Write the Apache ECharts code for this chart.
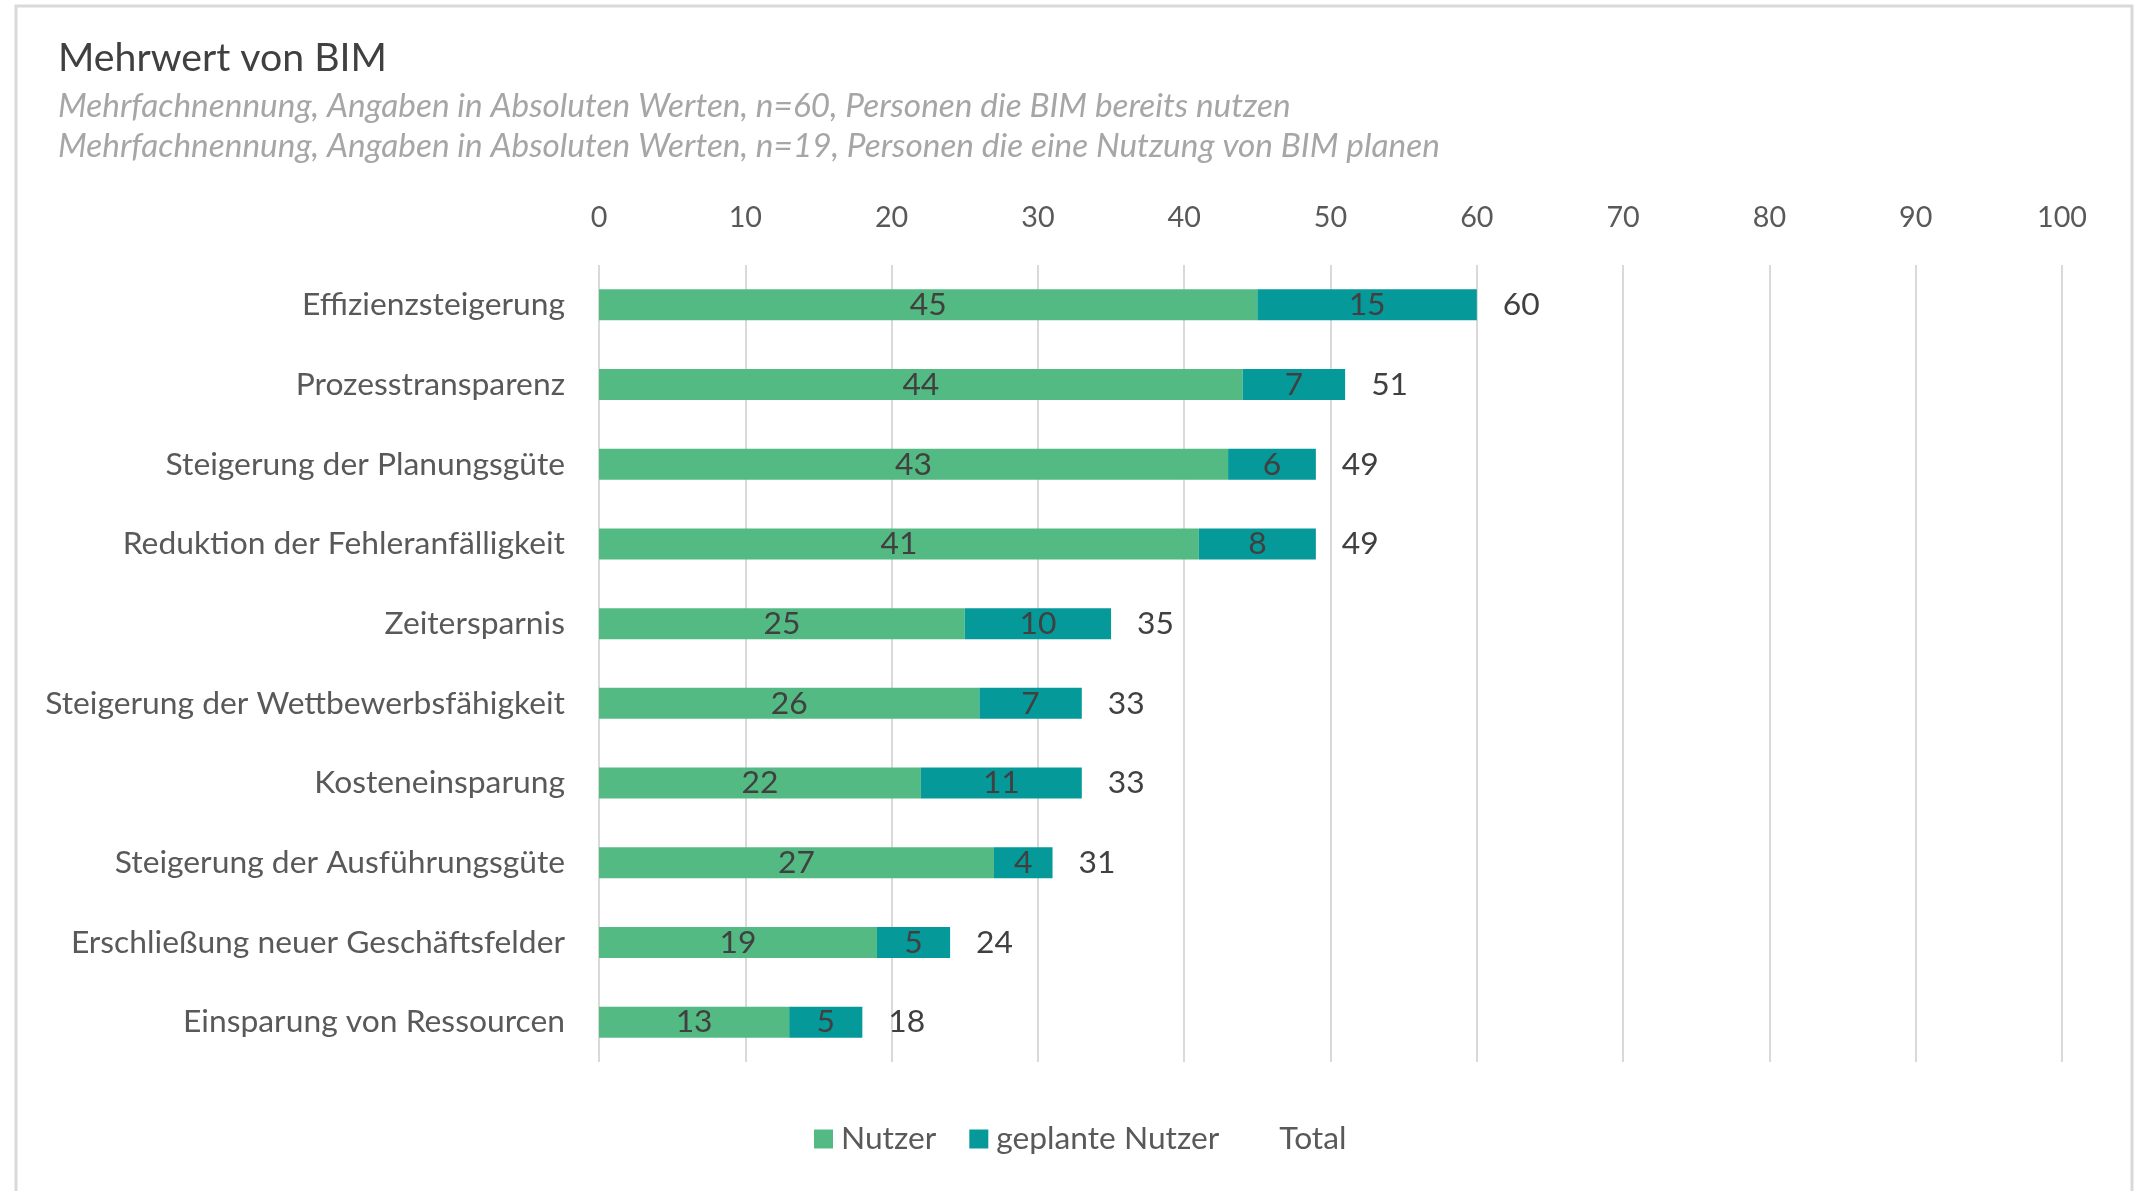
<!DOCTYPE html>
<html>
<head>
<meta charset="utf-8">
<script src="https://cdn.jsdelivr.net/npm/echarts@6/dist/echarts.min.js"></script>
<style>
html,body{margin:0;padding:0;background:#fff;}
#c{width:2134px;height:1191px;}
</style>
</head>
<body>
<div id="c"></div>
<script>
const categories = [
  'Effizienzsteigerung',
  'Prozesstransparenz',
  'Steigerung der Planungsgüte',
  'Reduktion der Fehleranfälligkeit',
  'Zeitersparnis',
  'Steigerung der Wettbewerbsfähigkeit',
  'Kosteneinsparung',
  'Steigerung der Ausführungsgüte',
  'Erschließung neuer Geschäftsfelder',
  'Einsparung von Ressourcen'
];
const nutzer = [45, 44, 43, 41, 25, 26, 22, 27, 19, 13];
const geplanteNutzer = [15, 7, 6, 8, 10, 7, 11, 4, 5, 5];
const total = [60, 51, 49, 49, 35, 33, 33, 31, 24, 18];
const seriesNames = ['Nutzer', 'geplante Nutzer', 'Total'];
const axisMin = 0, axisMax = 100, axisStep = 10;
const titleText = 'Mehrwert von BIM';
const subtitle1 = 'Mehrfachnennung, Angaben in Absoluten Werten, n=60, Personen die BIM bereits nutzen';
const subtitle2 = 'Mehrfachnennung, Angaben in Absoluten Werten, n=19, Personen die eine Nutzung von BIM planen';

const FONT = 'Lato';
const cv = document.createElement('canvas').getContext('2d');
function fit(text, target, style) {
  cv.font = (style || 'normal') + ' 100px ' + FONT;
  return 100 * target / cv.measureText(text).width;
}
const fsTitle = fit(titleText, 329);
const fsSub = fit(subtitle2, 1382, 'italic');
const fsCat = fit('Steigerung der Wettbewerbsfähigkeit', 520);
const fsAxis = fit('100', 50);
const fsLegend = fit('geplante Nutzer', 223);
const fsData = fsCat;

const gridTop = 265, gridBottom = 1191 - 1062, gridLeft = 599, gridRight = 2134 - 2062;

const chart = echarts.init(document.getElementById('c'), null, {renderer: 'canvas'});
const option = {
  backgroundColor: '#ffffff',
  animation: false,
  textStyle: {fontFamily: FONT},
  graphic: [{
    type: 'rect', silent: true, z: -1,
    shape: {x: 16, y: 6, width: 2116, height: 1300},
    style: {fill: 'none', stroke: '#d9d9d9', lineWidth: 3}
  }],
  title: [
    {text: titleText, left: 58, top: 58.5 - 25, padding: 0,
     textStyle: {fontFamily: FONT, fontSize: fsTitle, fontWeight: 'normal', color: '#404040', lineHeight: 50}},
    {text: subtitle1, left: 58, top: 106 - 20, padding: 0,
     textStyle: {fontFamily: FONT, fontSize: fsSub, fontStyle: 'italic', fontWeight: 'normal', color: '#a6a6a6', lineHeight: 40}},
    {text: subtitle2, left: 58, top: 146 - 20, padding: 0,
     textStyle: {fontFamily: FONT, fontSize: fsSub, fontStyle: 'italic', fontWeight: 'normal', color: '#a6a6a6', lineHeight: 40}}
  ],
  legend: {
    data: seriesNames,
    left: 814, top: 1139 - 16, padding: 0,
    itemWidth: 19, itemHeight: 19, itemGap: 33,
    icon: 'rect',
    textStyle: {fontFamily: FONT, fontSize: fsLegend, color: '#595959', lineHeight: 32, height: 32, padding: [0, 0, 0, 3]},
    selectedMode: false
  },
  grid: {left: gridLeft, right: gridRight, top: gridTop, bottom: gridBottom, containLabel: false},
  xAxis: {
    type: 'value', position: 'top', min: axisMin, max: axisMax, interval: axisStep,
    axisLine: {show: false}, axisTick: {show: false},
    splitLine: {show: true, lineStyle: {color: '#d9d9d9', width: 2}},
    axisLabel: {fontFamily: FONT, fontSize: fsAxis, color: '#595959', margin: 265 - 218 - fsAxis / 2}
  },
  yAxis: {
    type: 'category', data: categories, inverse: true,
    axisLine: {show: false}, axisTick: {show: false},
    axisLabel: {fontFamily: FONT, fontSize: fsCat, color: '#595959', margin: 34}
  },
  series: [
    {name: seriesNames[0], type: 'bar', stack: 'a', data: nutzer, barWidth: 31, barGap: '-100%',
     itemStyle: {color: '#54ba84'},
     label: {show: true, position: 'inside', fontFamily: FONT, fontSize: fsData, color: '#404040'}},
    {name: seriesNames[1], type: 'bar', stack: 'a', data: geplanteNutzer, barWidth: 31, barGap: '-100%',
     itemStyle: {color: '#05999a'},
     label: {show: true, position: 'inside', fontFamily: FONT, fontSize: fsData, color: '#404040'}},
    {name: seriesNames[2], type: 'bar', data: total, barWidth: 31, barGap: '-100%', z: 1,
     itemStyle: {color: 'transparent'},
     label: {show: true, position: 'right', distance: 26, fontFamily: FONT, fontSize: fsData, color: '#404040'}}
  ]
};
chart.setOption(option);
</script>
</body>
</html>
